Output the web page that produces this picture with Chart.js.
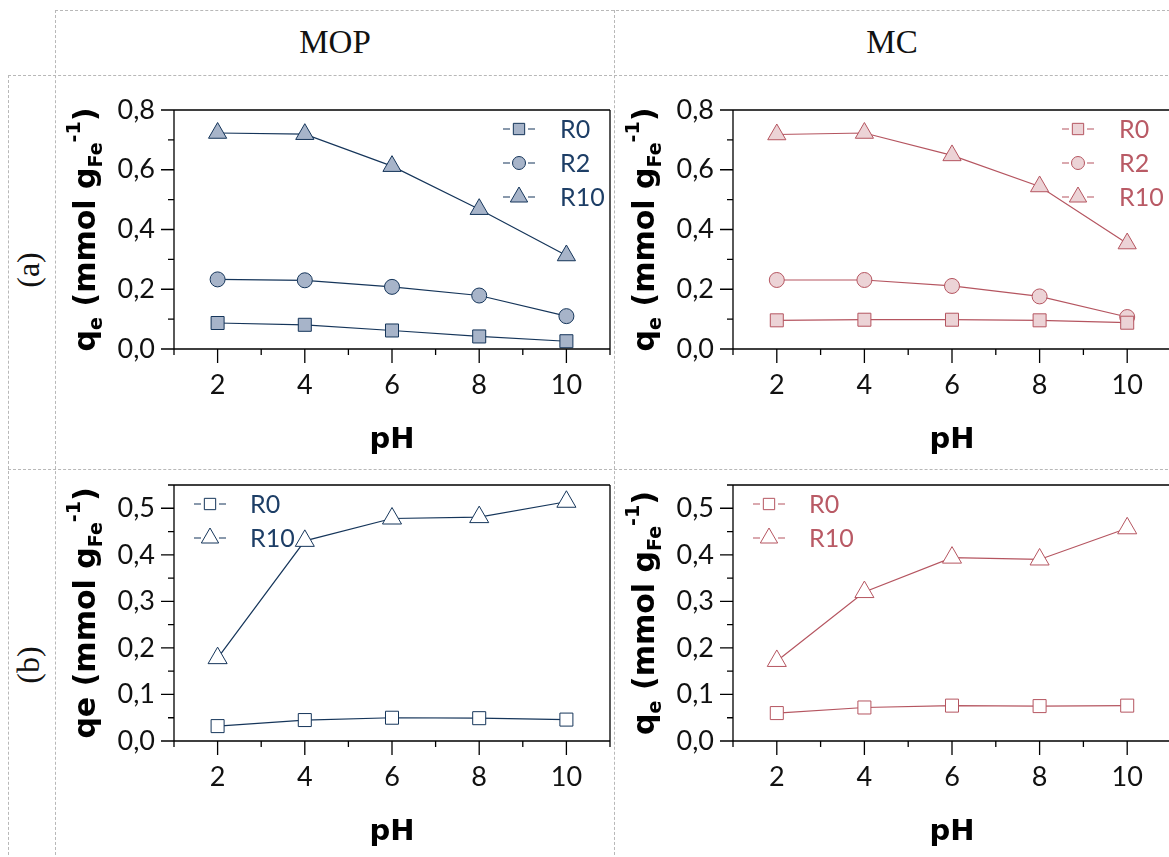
<!DOCTYPE html>
<html><head><meta charset="utf-8">
<script src="https://cdn.jsdelivr.net/npm/chart.js@4.4.1/dist/chart.umd.min.js"></script>
<style>
html,body{margin:0;padding:0;background:#fff;overflow:hidden;width:1169px;height:857px;position:relative}
.dh{position:absolute;height:0;border-top:1px dashed #b8b8b8}
.dv{position:absolute;width:0;border-left:1px dashed #b8b8b8}
.hdr{position:absolute;font-family:"Liberation Serif","DejaVu Serif",serif;font-size:33px;color:#111;text-align:center;width:300px;height:40px;line-height:40px}
.rl{position:absolute;font-family:"Liberation Serif","DejaVu Serif",serif;font-size:32px;color:#111;text-align:center;width:100px;height:40px;line-height:40px;transform:rotate(-90deg)}
canvas{position:absolute}
</style></head>
<body>
<div class="dh" style="left:55px;top:10px;width:1120px"></div>
<div class="dh" style="left:8px;top:75px;width:1170px"></div>
<div class="dh" style="left:8px;top:469px;width:1170px"></div>
<div class="dv" style="left:55px;top:10px;height:850px"></div>
<div class="dv" style="left:614px;top:10px;height:850px"></div>
<div class="dv" style="left:8px;top:75px;height:790px"></div>
<div class="hdr" style="left:185px;top:22px">MOP</div>
<div class="hdr" style="left:742px;top:22px">MC</div>
<div class="rl" style="left:-22px;top:250px">(a)</div>
<div class="rl" style="left:-22px;top:645px">(b)</div>
<canvas id="cA1" width="558" height="392" style="left:56px;top:76px"></canvas>
<canvas id="cA2" width="558" height="392" style="left:615px;top:76px"></canvas>
<canvas id="cB1" width="558" height="387" style="left:56px;top:470px"></canvas>
<canvas id="cB2" width="558" height="387" style="left:615px;top:470px"></canvas>
<script>
// ---------- data ----------
const phValues = [2, 4, 6, 8, 10];
const xMajorTicks = [2, 4, 6, 8, 10];
const xMinorTicks = [1, 3, 5, 7, 9, 11];
const yMajorTicksA = [0, 0.2, 0.4, 0.6, 0.8];
const yMinorTicksA = [0.1, 0.3, 0.5, 0.7];
const yMajorTicksB = [0, 0.1, 0.2, 0.3, 0.4, 0.5];
const yMinorTicksB = [0.05, 0.15, 0.25, 0.35, 0.45, 0.55];
const columnTitles = ['MOP', 'MC'];
const rowTitles = ['(a)', '(b)'];
const seriesA = ['R0', 'R2', 'R10'];
const seriesB = ['R0', 'R10'];

const mopA_R0  = [0.087, 0.081, 0.062, 0.042, 0.026];
const mopA_R2  = [0.233, 0.230, 0.208, 0.179, 0.110];
const mopA_R10 = [0.723, 0.719, 0.612, 0.468, 0.313];

const mcA_R0  = [0.096, 0.098, 0.098, 0.096, 0.088];
const mcA_R2  = [0.231, 0.231, 0.211, 0.176, 0.107];
const mcA_R10 = [0.718, 0.723, 0.648, 0.544, 0.353];

const mopB_R0  = [0.032, 0.045, 0.050, 0.049, 0.046];
const mopB_R10 = [0.178, 0.430, 0.478, 0.481, 0.514];

const mcB_R0  = [0.060, 0.072, 0.076, 0.075, 0.076];
const mcB_R10 = [0.172, 0.320, 0.394, 0.390, 0.457];

// ---------- styles ----------
const MOP = {line: '#15355a', fill: '#a7b4c9', text: '#1d3e66'};
const MC  = {line: '#b55560', fill: '#ecd3d6', text: '#b95a65'};
const TICK_FONT = {family: 'Lato, "Noto Sans", sans-serif', size: 27, weight: 'normal'};
const BOLD_FONT = '"DejaVu Sans", sans-serif';

const pts = ys => phValues.map((x, i) => ({x: x, y: ys[i]}));

function ds(label, ys, style, col, open, r) {
  return {
    label: label, data: pts(ys),
    borderColor: col.line, borderWidth: 1.2,
    pointStyle: style, pointRadius: r, pointHoverRadius: r,
    pointBackgroundColor: open ? '#ffffff' : col.fill,
    pointBorderColor: col.line, pointBorderWidth: 1,
    tension: 0, fill: false, clip: 20
  };
}

function drawRich(ctx, parts, size) {
  const sub = Math.round(size * 0.64);
  let w = 0;
  parts.forEach(p => {
    ctx.font = 'bold ' + (p.s ? sub : size) + 'px ' + BOLD_FONT;
    p.w = ctx.measureText(p.t).width; w += p.w;
  });
  let x = -w / 2;
  parts.forEach(p => {
    ctx.font = 'bold ' + (p.s ? sub : size) + 'px ' + BOLD_FONT;
    const dy = p.s === 'sub' ? size * 0.22 : (p.s === 'sup' ? -size * 0.5 : 0);
    ctx.fillText(p.t, x, dy);
    x += p.w;
  });
}

const decor = {
  id: 'decor',
  afterDraw(chart, args, o) {
    const ctx = chart.ctx, a = chart.chartArea;
    const xs = chart.scales.x, ys = chart.scales.y;
    ctx.save();
    ctx.strokeStyle = '#000'; ctx.lineWidth = 1.3; ctx.lineCap = 'butt';
    ctx.beginPath();
    ctx.moveTo(a.left, a.top); ctx.lineTo(a.right, a.top);
    ctx.moveTo(a.right, a.top); ctx.lineTo(a.right, a.bottom);
    ctx.moveTo(a.left, a.top); ctx.lineTo(a.left, a.bottom);
    ctx.moveTo(a.left, a.bottom); ctx.lineTo(a.right, a.bottom);
    o.xMajor.forEach(v => { const p = xs.getPixelForValue(v); ctx.moveTo(p, a.bottom); ctx.lineTo(p, a.bottom + 14); });
    o.xMinor.forEach(v => { const p = xs.getPixelForValue(v); ctx.moveTo(p, a.bottom); ctx.lineTo(p, a.bottom + 6); });
    o.yMajor.forEach(v => { const p = ys.getPixelForValue(v); ctx.moveTo(a.left, p); ctx.lineTo(a.left - 13, p); });
    o.yMinor.forEach(v => { const p = ys.getPixelForValue(v); ctx.moveTo(a.left, p); ctx.lineTo(a.left - 6, p); });
    ctx.stroke();

    // x title
    ctx.fillStyle = '#000';
    ctx.font = 'bold 29px ' + BOLD_FONT;
    ctx.textAlign = 'center'; ctx.textBaseline = 'middle';
    ctx.fillText('pH', (a.left + a.right) / 2, a.bottom + 91);

    // y title
    ctx.save();
    ctx.translate(a.left - 79, (a.top + a.bottom) / 2);
    ctx.rotate(-Math.PI / 2);
    ctx.textAlign = 'left'; ctx.textBaseline = 'alphabetic';
    drawRich(ctx, o.yTitle.map(p => Object.assign({}, p)), 30);
    ctx.restore();

    // legend
    const L = o.legend;
    chart.data.datasets.forEach((d, i) => {
      const y = a.top + L.y0 + i * L.dy;
      const sx = a.left + L.sx;
      ctx.strokeStyle = d.borderColor; ctx.lineWidth = 1.2;
      ctx.beginPath();
      ctx.moveTo(sx - 16, y); ctx.lineTo(sx - 9, y);
      ctx.moveTo(sx + 9, y); ctx.lineTo(sx + 16, y);
      ctx.stroke();
      ctx.fillStyle = d.pointBackgroundColor; ctx.strokeStyle = d.pointBorderColor; ctx.lineWidth = 1;
      const r = d.pointStyle === 'rect' ? 8 : (d.pointStyle === 'circle' ? 6.5 : 10);
      Chart.helpers.drawPoint(ctx, {pointStyle: d.pointStyle, radius: r, rotation: 0, borderWidth: 1}, sx, y);
      ctx.fillStyle = L.color;
      ctx.font = '25px Lato, "Noto Sans", sans-serif';
      ctx.textAlign = 'left'; ctx.textBaseline = 'middle';
      ctx.fillText(d.label, a.left + L.tx, y + 1);
    });
    ctx.restore();
  }
};

function makeChart(id, datasets, yMax, yMajor, yMinor, top, right, xh, col, legendCfg, yTitle) {
  return new Chart(document.getElementById(id), {
    type: 'line',
    data: {datasets: datasets},
    options: {
      responsive: false, animation: false, events: [],
      layout: {autoPadding: false, padding: {top: top, right: right, left: 0, bottom: 0}},
      plugins: {
        legend: {display: false}, tooltip: {enabled: false},
        decor: {xMajor: xMajorTicks, xMinor: xMinorTicks, yMajor: yMajor, yMinor: yMinor,
                legend: Object.assign({color: col.text}, legendCfg), yTitle: yTitle}
      },
      scales: {
        x: {
          type: 'linear', min: 1, max: 11,
          grid: {display: false, drawTicks: false, tickLength: 0},
          border: {display: false},
          afterBuildTicks: s => { s.ticks = xMajorTicks.map(v => ({value: v})); },
          afterFit: s => { s.height = xh; s.paddingLeft = 0; s.paddingRight = 0; },
          ticks: {font: TICK_FONT, color: '#111', padding: 20, maxRotation: 0, autoSkip: false,
                  callback: v => String(v)}
        },
        y: {
          type: 'linear', min: 0, max: yMax,
          grid: {display: false, drawTicks: false, tickLength: 0},
          border: {display: false},
          afterBuildTicks: s => { s.ticks = yMajor.map(v => ({value: v})); },
          afterFit: s => { s.width = 118; s.paddingTop = 0; s.paddingBottom = 0; },
          ticks: {font: TICK_FONT, color: '#111', padding: 19, autoSkip: false,
                  callback: v => v.toFixed(1).replace('.', ',')}
        }
      }
    },
    plugins: [decor]
  });
}

const titleSub = [{t: 'q'}, {t: 'e', s: 'sub'}, {t: ' (mmol g'}, {t: 'Fe', s: 'sub'}, {t: '-1', s: 'sup'}, {t: ')'}];
const titlePlain = [{t: 'qe (mmol g'}, {t: 'Fe', s: 'sub'}, {t: '-1', s: 'sup'}, {t: ')'}];
const legA = {sx: 345, tx: 386, y0: 19, dy: 34};
const legB = {sx: 36, tx: 76, y0: 19, dy: 34};

makeChart('cA1', [
  ds(seriesA[0], mopA_R0, 'rect', MOP, false, 9.2),
  ds(seriesA[1], mopA_R2, 'circle', MOP, false, 7.5),
  ds(seriesA[2], mopA_R10, 'triangle', MOP, false, 10.5)
], 0.8, yMajorTicksA, yMinorTicksA, 34, 4, 119, MOP, legA, titleSub);

makeChart('cA2', [
  ds(seriesA[0], mcA_R0, 'rect', MC, false, 9.2),
  ds(seriesA[1], mcA_R2, 'circle', MC, false, 7.5),
  ds(seriesA[2], mcA_R10, 'triangle', MC, false, 10.5)
], 0.8, yMajorTicksA, yMinorTicksA, 34, 2, 119, MC, legA, titleSub);

makeChart('cB1', [
  ds(seriesB[0], mopB_R0, 'rect', MOP, true, 9.2),
  ds(seriesB[1], mopB_R10, 'triangle', MOP, true, 11)
], 0.55, yMajorTicksB, yMinorTicksB, 15, 4, 116, MOP, legB, titlePlain);

makeChart('cB2', [
  ds(seriesB[0], mcB_R0, 'rect', MC, true, 9.2),
  ds(seriesB[1], mcB_R10, 'triangle', MC, true, 11)
], 0.55, yMajorTicksB, yMinorTicksB, 15, 2, 116, MC, legB, titleSub);
</script>
</body></html>
